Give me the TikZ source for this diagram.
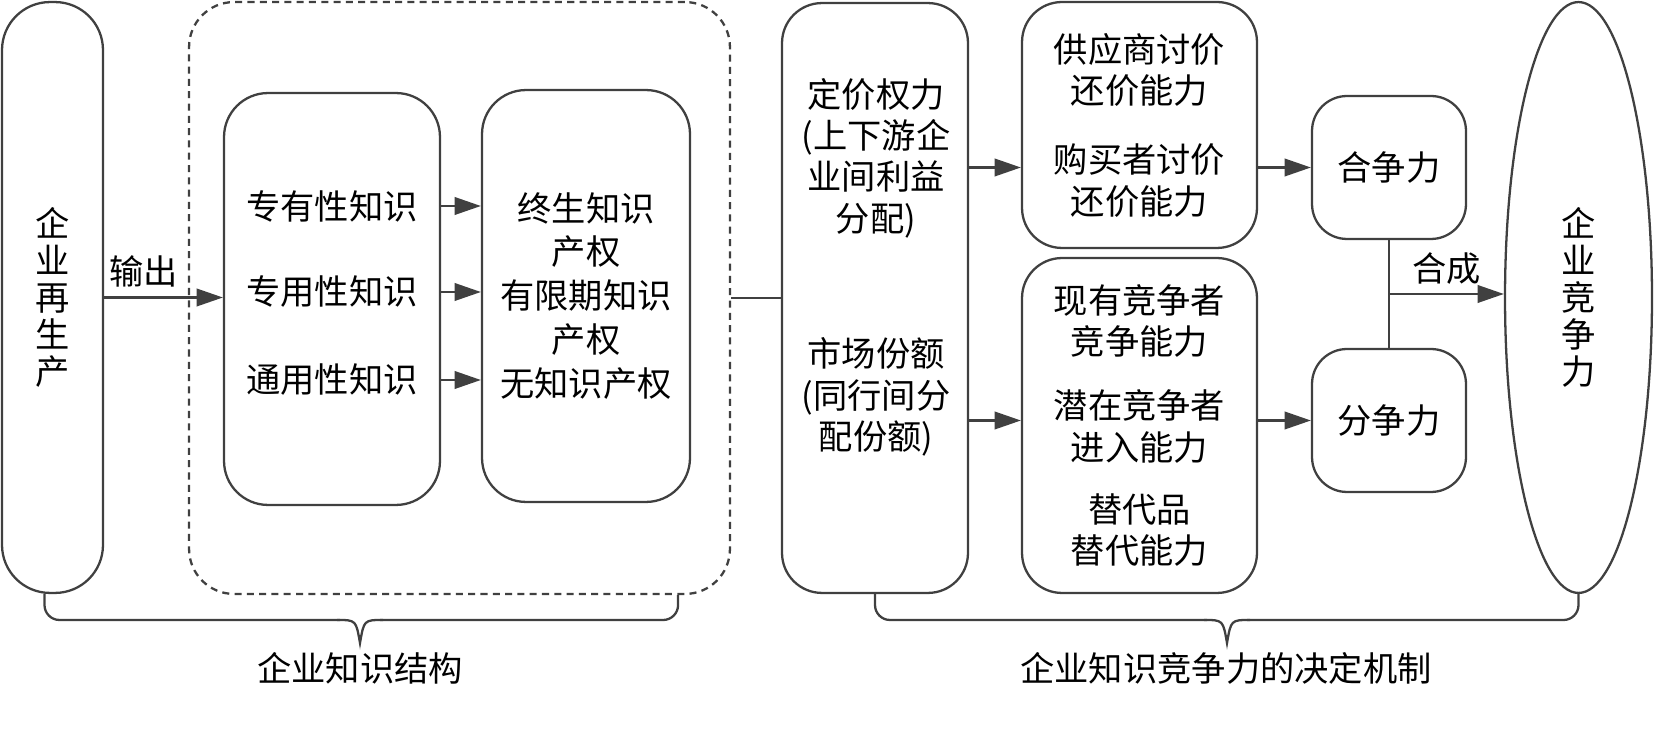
\documentclass[tikz,border=0pt]{standalone}
\usepackage{fontspec}
\setmainfont{Noto Sans CJK SC}
\usetikzlibrary{positioning, arrows.meta, calc, shapes.geometric}

\begin{document}
\begin{tikzpicture}[x=0.02cm, y=-0.02cm,
        txt/.style={align=center, inner sep=0pt, font=\fontsize{19.5pt}{23.5pt}\selectfont},
        vtxt/.style={txt, font=\fontsize{19.5pt}{21pt}\selectfont},
        box/.style={rectangle, draw=black!75, line width=1.3pt, rounded corners=0.8cm, txt},
        line/.style={draw=black!75, line width=1.3pt},
        arr/.style={line, -{Triangle[length=15pt, width=10pt]}},
    ]
    \useasboundingbox (0,0) rectangle (1654,742);

    % Left half: knowledge structure
    \node[box, vtxt, rounded corners=0.96cm, minimum width=2.02cm, minimum height=11.82cm] (prod) at (52.5,297.5) {企\\业\\再\\生\\产};
    \node[box, dash pattern=on 4pt off 3pt, rounded corners=0.9cm, minimum width=10.82cm, minimum height=11.84cm] (know) at (459.5,298) {};
    \node[box, rounded corners=0.88cm, minimum width=4.32cm, minimum height=8.24cm] (kind) at (332,299) {};
    \node[txt] (k1) at (332,206) {专有性知识};
    \node[txt] (k2) at (332,292) {专用性知识};
    \node[txt] (k3) at (332,380) {通用性知识};
    \node[box, rounded corners=0.88cm, minimum width=4.16cm, minimum height=8.24cm, font=\fontsize{19.5pt}{25pt}\selectfont] (right) at (586,296) {终生知识\\产权\\有限期知识\\产权\\无知识产权};

    \draw[arr] (prod.east) -- (prod.east -| kind.west) node[txt, pos=0.33, above=5pt] (out) {输出};
    \foreach \k in {k1,k2,k3}
        \draw[arr] (kind.east |- \k) -- (right.west |- \k);

    % Right half: how competitiveness is decided
    \node[box, minimum width=3.72cm, minimum height=11.8cm] (power) at (875,298) {};
    \node[txt] (price) at (876,158) {定价权力\\(上下游企\\业间利益\\分配)};
    \node[txt] (share) at (876,397) {市场份额\\(同行间分\\配份额)};
    \node[box, minimum width=4.7cm, minimum height=4.92cm] (bargain) at (1139.5,125) {供应商讨价\\还价能力\\[16pt]购买者讨价\\还价能力};
    \node[box, minimum width=4.7cm, minimum height=6.7cm] (rival) at (1139.5,425.5) {现有竞争者\\竞争能力\\[13pt]潜在竞争者\\进入能力\\[12pt]替代品\\替代能力};
    \node[box, rounded corners=0.7cm, minimum width=3.08cm, minimum height=2.86cm] (he) at (1389,167.5) {合争力};
    \node[box, rounded corners=0.7cm, minimum width=3.08cm, minimum height=2.86cm] (fen) at (1389,420.5) {分争力};
    \node[ellipse, draw=black!75, line width=1.3pt, vtxt, minimum width=2.94cm, minimum height=11.82cm] (ell) at (1578.5,297.5) {企\\业\\竞\\争\\力};

    \draw[line] (know.east) -- (know.east -| power.west);
    \draw[arr] (power.east |- he) -- (bargain.west |- he);
    \draw[arr] (bargain.east |- he) -- (he.west);
    \draw[arr] (power.east |- fen) -- (rival.west |- fen);
    \draw[arr] (rival.east |- fen) -- (fen.west);

    \draw[line] (he.south) -- (fen.north);
    \coordinate (join) at ($(he.south)!0.5!(fen.north)$);
    \draw[arr] (join) -- (join -| ell.west) node[txt, midway, above=5pt] (mix) {合成};

    % Braces
    \draw[line, rounded corners=0.3cm] ($(prod.south)+(-8,0)$) |- (340,620);
    \draw[line] (337,620) .. controls (356,620) .. (360,643) .. controls (364,620) .. (383,620);
    \draw[line, rounded corners=0.3cm] (380,620) -| ($(know.south east)+(-53,0)$);
    \draw[line, rounded corners=0.3cm] (power.south) |- (1207,620);
    \draw[line] (1204,620) .. controls (1223,620) .. (1227,643) .. controls (1231,620) .. (1250,620);
    \draw[line, rounded corners=0.3cm] (1247,620) -| (ell.south);
    \node[txt] (lstruct) at (360,668) {企业知识结构};
    \node[txt] (lmech) at (1226,668) {企业知识竞争力的决定机制};
\end{tikzpicture}
\end{document}
